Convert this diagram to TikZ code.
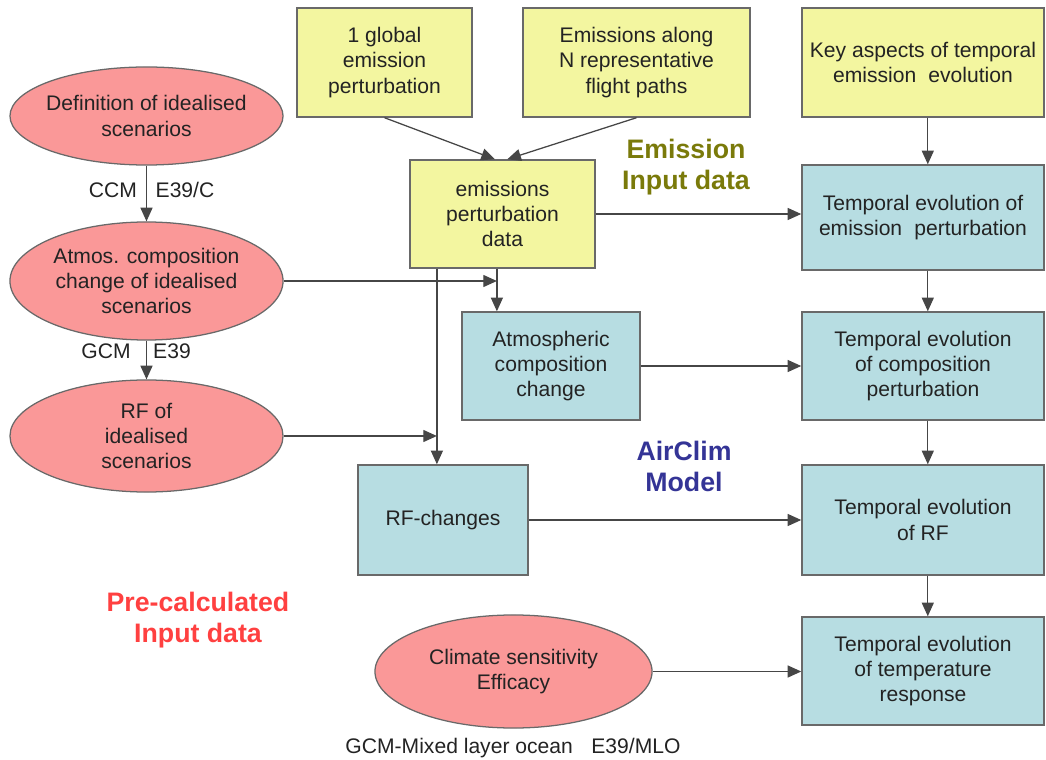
\documentclass[tikz,border=0pt]{standalone}
\usepackage{fontspec}
\setmainfont{Liberation Sans}
\usetikzlibrary{arrows.meta,shapes.geometric}
\definecolor{boxyellow}{RGB}{243,246,160}
\definecolor{boxblue}{RGB}{183,221,226}
\definecolor{ellred}{RGB}{250,152,152}
\definecolor{edgegray}{RGB}{105,105,105}
\definecolor{linegray}{RGB}{70,70,70}
\definecolor{txtgray}{RGB}{35,35,35}
\definecolor{titleolive}{RGB}{122,122,10}
\definecolor{titleblue}{RGB}{52,52,150}
\definecolor{titlered}{RGB}{255,64,64}
\tikzset{
  txt/.style={font=\fontsize{15}{18}\selectfont, text=txtgray, align=center},
  ybox/.style={txt, draw=edgegray, line width=1pt, fill=boxyellow, inner sep=0pt},
  bbox/.style={txt, draw=edgegray, line width=1pt, fill=boxblue, inner sep=0pt},
  scen/.style={ellipse, draw=edgegray, line width=0.9pt, fill=ellred, inner sep=0pt},
  tag/.style={txt, inner sep=1pt},
  title/.style={font=\fontsize{19}{22}\selectfont\bfseries, align=center},
  arr/.style={draw=linegray, line width=0.9pt, -{Triangle[length=0.34cm,width=0.3cm]}}
}
\begin{document}
\begin{tikzpicture}[x=0.025cm,y=-0.025cm]
		%%%%% START %%%%%
		\useasboundingbox (0,0) rectangle (1046,760);
		
		% pre-calculated scenarios
		\node[scen, minimum width=6.825cm, minimum height=2.45cm] (defsc) at (146.5,116) {};
		\node[txt] (defsctxt) at (defsc) {Definition of idealised\\scenarios};
		\node[scen, minimum width=6.825cm, minimum height=2.95cm] (atmsc) at (146.5,281) {};
		\node[txt] (atmsctxt) at (atmsc) {Atmos. composition\\change of idealised\\scenarios};
		\node[scen, minimum width=6.825cm, minimum height=2.8cm] (rfsc) at (146.5,436) {};
		\node[txt] (rfsctxt) at (rfsc) {RF of\\idealised\\scenarios};
		\node[scen, minimum width=6.925cm, minimum height=2.825cm] (clsens) at (513.5,671.5) {};
		\node[txt] (clsenstxt) at (clsens) {Climate sensitivity\\Efficacy};
		
		\node[tag] (ccm) at (113,190) {CCM};
		\node[tag] (e39c) at (185,190) {E39/C};
		\node[tag] (gcm) at (106,351) {GCM};
		\node[tag] (e39) at (172,351) {E39};
		\node[tag] (mlo) at (513,748) {GCM-Mixed layer ocean\hspace{0.6em} E39/MLO};
		
		% emission input
		\node[ybox, minimum width=4.375cm, minimum height=2.725cm] (glob) at (384.5,62.5) {1 global\\emission\\perturbation};
		\node[ybox, minimum width=5.675cm, minimum height=2.725cm] (paths) at (636.5,62.5) {Emissions along\\N representative\\flight paths};
		\node[ybox, minimum width=6.05cm, minimum height=2.725cm] (keyasp) at (923,62.5) {Key aspects of temporal\\emission\hspace{0.3em} evolution};
		\node[ybox, minimum width=4.625cm, minimum height=2.7cm] (emdata) at (502.5,214) {emissions\\perturbation\\data};
		
		% airclim model
		\node[bbox, minimum width=6.05cm, minimum height=2.625cm] (tevem) at (923,217.5) {Temporal evolution of\\emission\hspace{0.3em} perturbation};
		\node[bbox, minimum width=4.45cm, minimum height=2.7cm] (atmch) at (551,366) {Atmospheric\\composition\\change};
		\node[bbox, minimum width=6.05cm, minimum height=2.7cm] (tevcomp) at (923,366) {Temporal evolution\\of composition\\perturbation};
		\node[bbox, minimum width=4.25cm, minimum height=2.75cm] (rfch) at (443,520) {RF-changes};
		\node[bbox, minimum width=6.05cm, minimum height=2.75cm] (tevrf) at (923,520) {Temporal evolution\\of RF};
		\node[bbox, minimum width=6.05cm, minimum height=2.7cm] (tevtemp) at (923,671) {Temporal evolution\\of temperature\\response};
		
		% titles
		\node[title, text=titleolive] (emtitle) at (686,167) {Emission\\Input data};
		\node[title, text=titleblue] (actitle) at (684,466) {AirClim\\Model};
		\node[title, text=titlered] (pctitle) at (198,620) {Pre-calculated\\Input data};
		
		% connectors
		\draw[arr] (defsc) -- (atmsc);
		\draw[arr] (atmsc) -- (rfsc);
		\draw[arr] (glob.south) -- ([xshift=-0.19cm]emdata.north);
		\draw[arr] (paths.south) -- ([xshift=0.12cm]emdata.north);
		\draw[arr] ([xshift=0.12cm]keyasp.south) -- ([xshift=0.12cm]tevem.north);
		\draw[arr] (emdata.east) -- (emdata.east -| tevem.west);
		
		\coordinate (dropA) at ([xshift=-0.14cm]emdata.south);
		\coordinate (dropB) at ([xshift=-1.64cm]emdata.south);
		\draw[arr] (dropA) -- (dropA |- atmch.north);
		\draw[arr] (dropB) -- (dropB |- rfch.north);
		\draw[arr] (atmsc.east) -- (atmsc.east -| dropA);
		\draw[arr] (rfsc.east) -- (rfsc.east -| dropB);
		
		\draw[arr] (atmch.east) -- (atmch.east -| tevcomp.west);
		\draw[arr] (rfch.east) -- (rfch.east -| tevrf.west);
		\draw[arr] (clsens.east) -- (clsens.east -| tevtemp.west);
		\draw[arr] ([xshift=0.12cm]tevem.south) -- ([xshift=0.12cm]tevcomp.north);
		\draw[arr] ([xshift=0.12cm]tevcomp.south) -- ([xshift=0.12cm]tevrf.north);
		\draw[arr] ([xshift=0.12cm]tevrf.south) -- ([xshift=0.12cm]tevtemp.north);
		%%%%% END %%%%%
\end{tikzpicture}
\end{document}
